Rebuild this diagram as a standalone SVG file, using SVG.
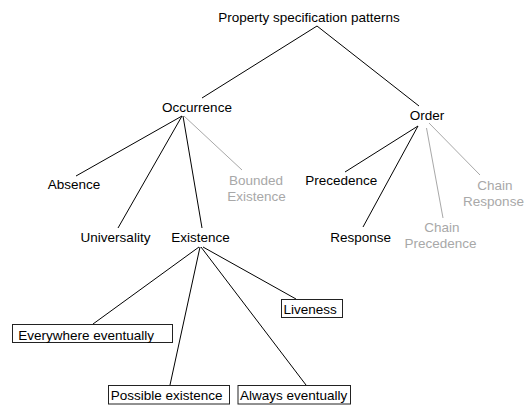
<svg xmlns="http://www.w3.org/2000/svg" width="526" height="409" viewBox="0 0 526 409">
<style>
text{font-family:"Liberation Sans",Arial,sans-serif;font-size:13.5px;fill:#000}
.m{text-anchor:middle}
.g{fill:#a8a8a8}
.e{stroke:#000;stroke-width:1;fill:none}
.eg{stroke:#a8a8a8;stroke-width:1;fill:none}
.box{fill:#fff;stroke:#222;stroke-width:1}
</style>
<rect width="526" height="409" fill="#fff"/>
<g id="connectors">
<line class="e" x1="317" y1="26" x2="202" y2="98"/>
<line class="e" x1="317" y1="26" x2="419" y2="106"/>
<line class="e" x1="182" y1="116" x2="76" y2="176"/>
<line class="e" x1="182" y1="116" x2="118" y2="228"/>
<line class="e" x1="183" y1="116" x2="202" y2="228"/>
<line class="eg" x1="184" y1="116" x2="242" y2="170"/>
<line class="e" x1="418" y1="126" x2="345" y2="172"/>
<line class="e" x1="418" y1="126" x2="363" y2="227"/>
<line class="eg" x1="426.5" y1="128" x2="443" y2="218"/>
<line class="eg" x1="429" y1="123" x2="480" y2="175"/>
<line class="e" x1="199" y1="247" x2="93" y2="324"/>
<line class="e" x1="200" y1="247" x2="170" y2="385"/>
<line class="e" x1="201" y1="247" x2="306" y2="385"/>
<line class="e" x1="203" y1="247" x2="296" y2="299"/>
</g>
<g id="root"><text class="m" x="309" y="22">Property specification patterns</text></g>
<g id="occurrence"><text class="m" x="197" y="112">Occurrence</text></g>
<g id="order"><text class="m" x="427" y="119.5">Order</text></g>
<g id="absence"><text class="m" x="74" y="189">Absence</text></g>
<g id="universality"><text class="m" x="115.5" y="242">Universality</text></g>
<g id="existence"><text class="m" x="200.5" y="242">Existence</text></g>
<g id="bounded-existence"><text class="m g" x="256" y="185">Bounded</text><text class="m g" x="256.5" y="201">Existence</text></g>
<g id="precedence"><text class="m" x="341.3" y="185">Precedence</text></g>
<g id="response"><text class="m" x="360.7" y="241.7">Response</text></g>
<g id="chain-precedence"><text class="m g" x="442" y="232">Chain</text><text class="m g" x="440.5" y="248">Precedence</text></g>
<g id="chain-response"><text class="m g" x="495" y="190">Chain</text><text class="m g" x="493.5" y="205.5">Response</text></g>
<g id="everywhere-eventually"><rect class="box" x="12.5" y="324.5" width="160" height="18"/><text x="18.3" y="339.5">Everywhere eventually</text></g>
<g id="liveness"><rect class="box" x="281.5" y="299.5" width="61" height="18"/><text x="283.5" y="313.5">Liveness</text></g>
<g id="possible-existence"><rect class="box" x="108.5" y="385.5" width="121" height="18.5"/><text x="110.7" y="400">Possible existence</text></g>
<g id="always-eventually"><rect class="box" x="238" y="385.5" width="112.5" height="18.5"/><text x="240" y="400">Always eventually</text></g>
</svg>
